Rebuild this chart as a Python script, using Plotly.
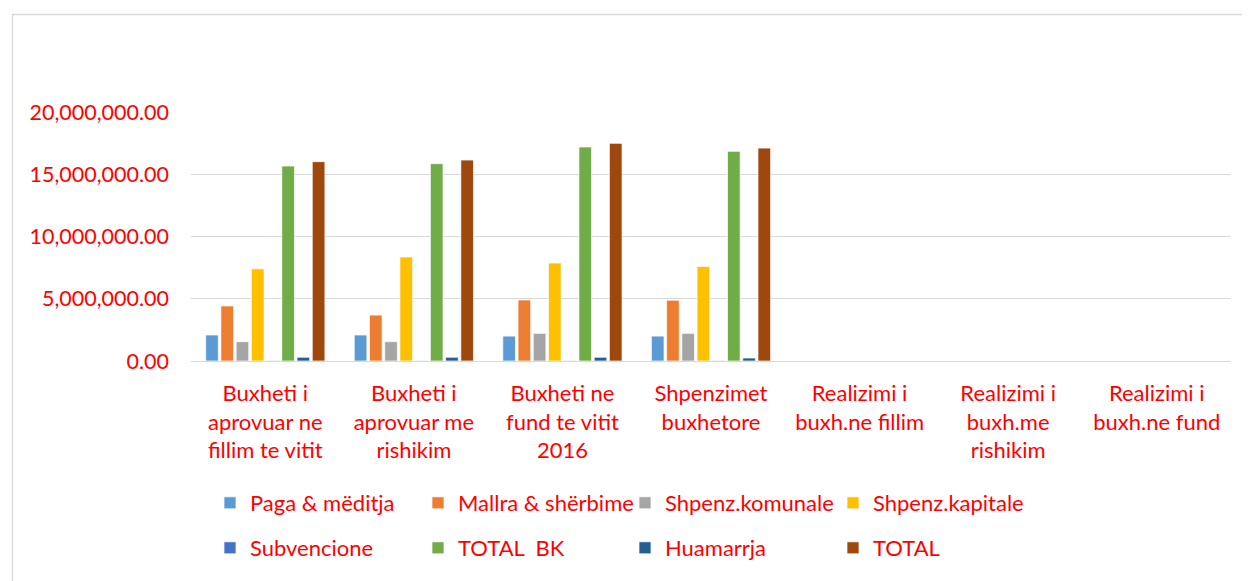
import plotly.graph_objects as go

categories = [
    "Buxheti i<br>aprovuar ne<br>fillim te vitit",
    "Buxheti i<br>aprovuar me<br>rishikim",
    "Buxheti ne<br>fund te vitit<br>2016",
    "Shpenzimet<br>buxhetore",
    "Realizimi i<br>buxh.ne fillim",
    "Realizimi i<br>buxh.me<br>rishikim",
    "Realizimi i<br>buxh.ne fund",
]

series_names = ["Paga & mëditja", "Mallra & shërbime", "Shpenz.komunale", "Shpenz.kapitale",
                "Subvencione", "TOTAL  BK", "Huamarrja", "TOTAL"]

paga = [2090000, 2090000, 2000000, 2000000, None, None, None]
mallra = [4420000, 3690000, 4900000, 4880000, None, None, None]
komunale = [1550000, 1550000, 2220000, 2220000, None, None, None]
kapitale = [7410000, 8350000, 7870000, 7600000, None, None, None]
subvencione = [20000, 20000, 20000, 20000, None, None, None]
total_bk = [15660000, 15850000, 17190000, 16840000, None, None, None]
huamarrja = [300000, 300000, 300000, 240000, None, None, None]
total = [16010000, 16140000, 17480000, 17100000, None, None, None]

series_values = [paga, mallra, komunale, kapitale, subvencione, total_bk, huamarrja, total]
colors = ["#5B9BD5", "#ED7D31", "#A5A5A5", "#FFC000", "#4472C4", "#70AD47", "#255E91", "#9E480E"]

ytick_vals = [0, 5000000, 10000000, 15000000, 20000000]

FONT = "Lato"
RED = "#FF0000"

OFF = 8  # page body margin
W, H = 1250 - OFF, 581 - OFF
L = 191 - OFF
T = 112 - OFF
R = W - (1231 - OFF)
B = H - (361 - OFF)
pw = W - L - R
ph = H - T - B

def px_x(x):
    return (x - OFF - L) / pw

def px_y(y):
    return (H - B - (y - OFF)) / ph

legend_cols = [210, 418, 625, 833]
legend_rows = [503, 548]

fig = go.Figure()
legend_layout = {}
for i, (name, vals, col) in enumerate(zip(series_names, series_values, colors)):
    key = "legend" if i == 0 else f"legend{i + 1}"
    fig.add_trace(go.Bar(
        x=categories, y=vals, name=name,
        marker=dict(color=col, line=dict(color="white", width=0.7)),
        legend=key,
    ))
    legend_layout[key] = dict(
        orientation="h", xanchor="left", yanchor="middle",
        x=px_x(legend_cols[i % 4]), y=px_y(legend_rows[i // 4]),
        font=dict(family=FONT, size=22, color=RED),
        bgcolor="rgba(0,0,0,0)", borderwidth=0,
        itemclick=False, itemdoubleclick=False,
    )

fig.update_layout(
    width=W, height=H,
    margin=dict(l=L, r=R, t=T, b=B, pad=0),
    paper_bgcolor="white", plot_bgcolor="white",
    barmode="group", bargap=0.18, bargroupgap=0.17,
    font=dict(family=FONT, size=21, color=RED),
    showlegend=True,
    xaxis=dict(
        type="category", showgrid=False, showline=False, zeroline=False,
        ticks="", tickfont=dict(family=FONT, size=22, color=RED),
        tickangle=0, ticklabelstandoff=17,
    ),
    yaxis=dict(
        range=[0, 20000000], tickvals=ytick_vals, tickformat=",.2f",
        showgrid=True, gridcolor="#D9D9D9", gridwidth=1.3,
        zeroline=True, zerolinecolor="#D9D9D9", zerolinewidth=1.3,
        showline=False, ticks="",
        tickfont=dict(family=FONT, size=21.5, color=RED),
        ticklabelstandoff=21,
    ),
    shapes=[dict(
        type="rect", xref="paper", yref="paper", layer="below",
        x0=px_x(12.5), x1=px_x(1270), y0=px_y(600), y1=px_y(14.5),
        line=dict(color="#D9D9D9", width=1.3), fillcolor="rgba(0,0,0,0)",
    )],
    **legend_layout,
)

fig.write_html("out.html")
